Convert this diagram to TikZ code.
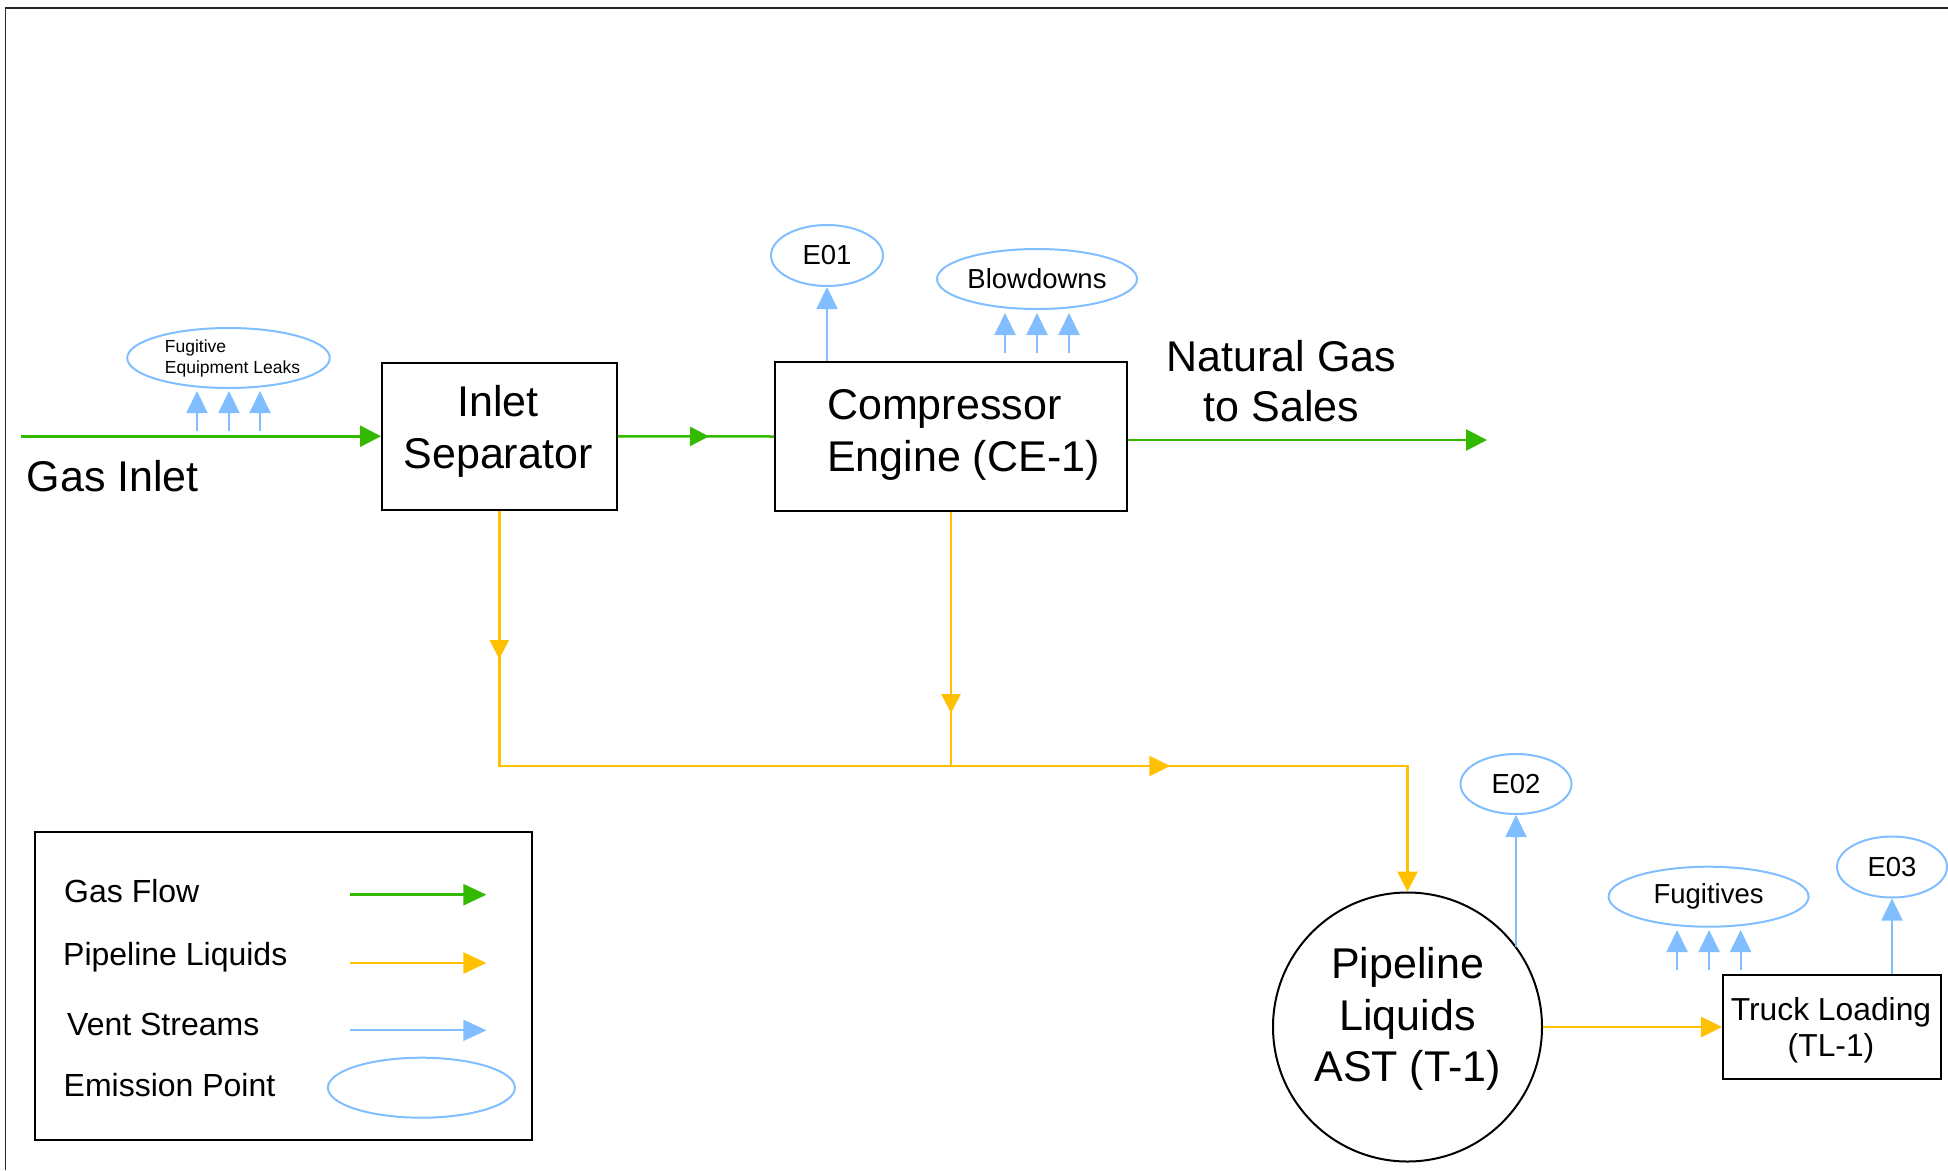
\documentclass[tikz,border=0pt]{standalone}
\usepackage{fontspec}
\setmainfont{Liberation Sans}
\usetikzlibrary{arrows.meta,decorations.markings,shapes.geometric}
\definecolor{gasgreen}{RGB}{50,185,0}
\definecolor{liqorange}{RGB}{255,192,0}
\definecolor{ventblue}{RGB}{128,190,255}
\begin{document}
\begin{tikzpicture}[x=1pt,y=-1pt,
  frameline/.style={draw=black!85,line width=1.5pt},
  box/.style={draw=black,line width=2pt,inner sep=0pt},
  emis/.style={ellipse,draw=ventblue,line width=2pt,inner sep=0pt,font=\fontsize{27.5}{33}\selectfont},
  bigt/.style={inner sep=0pt,anchor=base,font=\fontsize{43}{50}\selectfont},
  midt/.style={inner sep=0pt,anchor=base,font=\fontsize{31.8}{37}\selectfont},
  legt/.style={inner sep=0pt,anchor=base west,font=\fontsize{32}{38}\selectfont},
  gas/.style={draw=gasgreen,line width=2.5pt,-{Triangle[length=21pt,width=21pt]}},
  gasline/.style={draw=gasgreen,line width=2.5pt},
  liq/.style={draw=liqorange,line width=2.5pt},
  vent/.style={draw=ventblue,line width=2pt,-{Triangle[length=22pt,width=21pt]}},
  mida/.style={postaction={decorate,decoration={markings,mark=at position #1 with {\arrow{Triangle[length=19pt,width=19pt]}}}}},
  midb/.style={postaction={decorate,decoration={markings,mark=at position #1 with {\arrow{Triangle[length=21pt,width=20pt]}}}}},
]
\useasboundingbox (0,0) rectangle (1948,1170);
\draw[frameline] (5.5,1170) -- (5.5,8) -- (1948,8);

% main boxes
\node[box,minimum width=234.5pt,minimum height=146.5pt] (sep) at (499.25,436.25) {};
\node[bigt] (sepA) at (498,416) {Inlet};
\node[bigt] (sepB) at (498,468) {Separator};

\node[box,minimum width=352pt,minimum height=149pt] (comp) at (951,436.5) {};
\node[bigt,anchor=base west] (compA) at (827,419) {Compressor};
\node[bigt,anchor=base west] (compB) at (827,471.5) {Engine (CE-1)};

\node[draw=black,line width=2pt,circle,inner sep=0pt,minimum size=269pt] (tank) at (1407.5,1027) {};
\node[bigt] (tankA) at (1407.5,978.3) {Pipeline};
\node[bigt] (tankB) at (1407.5,1030) {Liquids};
\node[bigt] (tankC) at (1407.5,1081.7) {AST (T-1)};

\node[box,minimum width=218pt,minimum height=104pt] (truck) at (1832,1027) {};
\node[midt] (truckA) at (1831,1020) {Truck Loading};
\node[midt] (truckB) at (1831,1056) {(TL-1)};

% free labels
\node[bigt,anchor=base west] (gasin) at (26.5,491) {Gas Inlet};
\node[bigt] (ngA) at (1281.5,371) {Natural Gas};
\node[bigt] (ngB) at (1281.5,421.7) {to Sales};

% emission ellipses
\node[emis,minimum width=201pt,minimum height=60pt,align=left,font=\fontsize{17.5}{21}\selectfont] (fug) at (228.5,358) {\hspace*{8pt}Fugitive\\\hspace*{8pt}Equipment Leaks};
\node[emis,minimum width=112pt,minimum height=61pt] (e01) at (827,255.5) {E01};
\node[emis,minimum width=200pt,minimum height=60pt] (blow) at (1037,279) {Blowdowns};
\node[emis,minimum width=111pt,minimum height=60pt] (e02) at (1516,784) {E02};
\node[emis,minimum width=200pt,minimum height=60pt] (fugs) at (1708.6,896.7) {Fugitives};
\node[emis,minimum width=110pt,minimum height=61pt] (e03) at (1892,867) {E03};

% gas flow
\coordinate (gin) at (21,436.25);
\draw[gas] (gin) -- (sep.west);
\draw[gasline,mida=91.5pt] (sep.east) -- (comp.west);
\coordinate (sales) at (1487,440);
\draw[gas] (comp.east |- sales) -- (sales);

% liquids
\coordinate (j1) at (499.25,766);
\coordinate (j2) at (951,766);
\coordinate (j3) at (1407.5,766);
\draw[liq,-{Triangle[length=20pt,width=20pt]},mida=148.5pt,midb=926.5pt] (sep.south) -- (j1) -- (j3) -- (tank.north);
\draw[liq,mida=201pt] (comp.south) -- (j2);
\draw[liq,-{Triangle[length=21pt,width=20pt]}] (tank.east) -- (truck.west);

% vents
\foreach \dx in {-31.5,0.5,31.5}
  \draw[vent] ([xshift=\dx pt,yshift=-42pt]fug.south) -- ([xshift=\dx pt,yshift=-2pt]fug.south);
\foreach \dx in {-32,0,32}
  \draw[vent] ([xshift=\dx pt,yshift=-43pt]blow.south) -- ([xshift=\dx pt,yshift=-3pt]blow.south);
\foreach \dx in {-31.5,0.5,32}
  \draw[vent] ([xshift=\dx pt,yshift=-42.6pt]fugs.south) -- ([xshift=\dx pt,yshift=-2.3pt]fugs.south);
\draw[vent] (e01.south |- comp.north) -- (e01.south);
\draw[vent] (e02.south |- tank.36.2) -- (e02.south);
\draw[vent] (e03.south |- truck.north) -- (e03.south);

% legend
\node[box,minimum width=497pt,minimum height=308pt] (legend) at (283.25,986) {};
\node[legt] (lgA) at (64,902.7) {Gas Flow};
\node[legt] (lgB) at (63,965.7) {Pipeline Liquids};
\node[legt] (lgC) at (67,1035) {Vent Streams};
\node[legt] (lgD) at (63.5,1096.7) {Emission Point};
\coordinate (lg1a) at (350,894.7); \coordinate (lg1b) at (486.4,894.7);
\coordinate (lg2a) at (350,963);   \coordinate (lg2b) at (486.4,963);
\coordinate (lg3a) at (350,1030.3);\coordinate (lg3b) at (486.4,1030.3);
\draw[gasline,-{Triangle[length=23pt,width=21pt]}] (lg1a) -- (lg1b);
\draw[liq,-{Triangle[length=23pt,width=21pt]}] (lg2a) -- (lg2b);
\draw[vent,-{Triangle[length=23pt,width=21pt]}] (lg3a) -- (lg3b);
\node[emis,minimum width=187pt,minimum height=60pt] (lgE) at (421.4,1087.7) {};
\end{tikzpicture}
\end{document}
